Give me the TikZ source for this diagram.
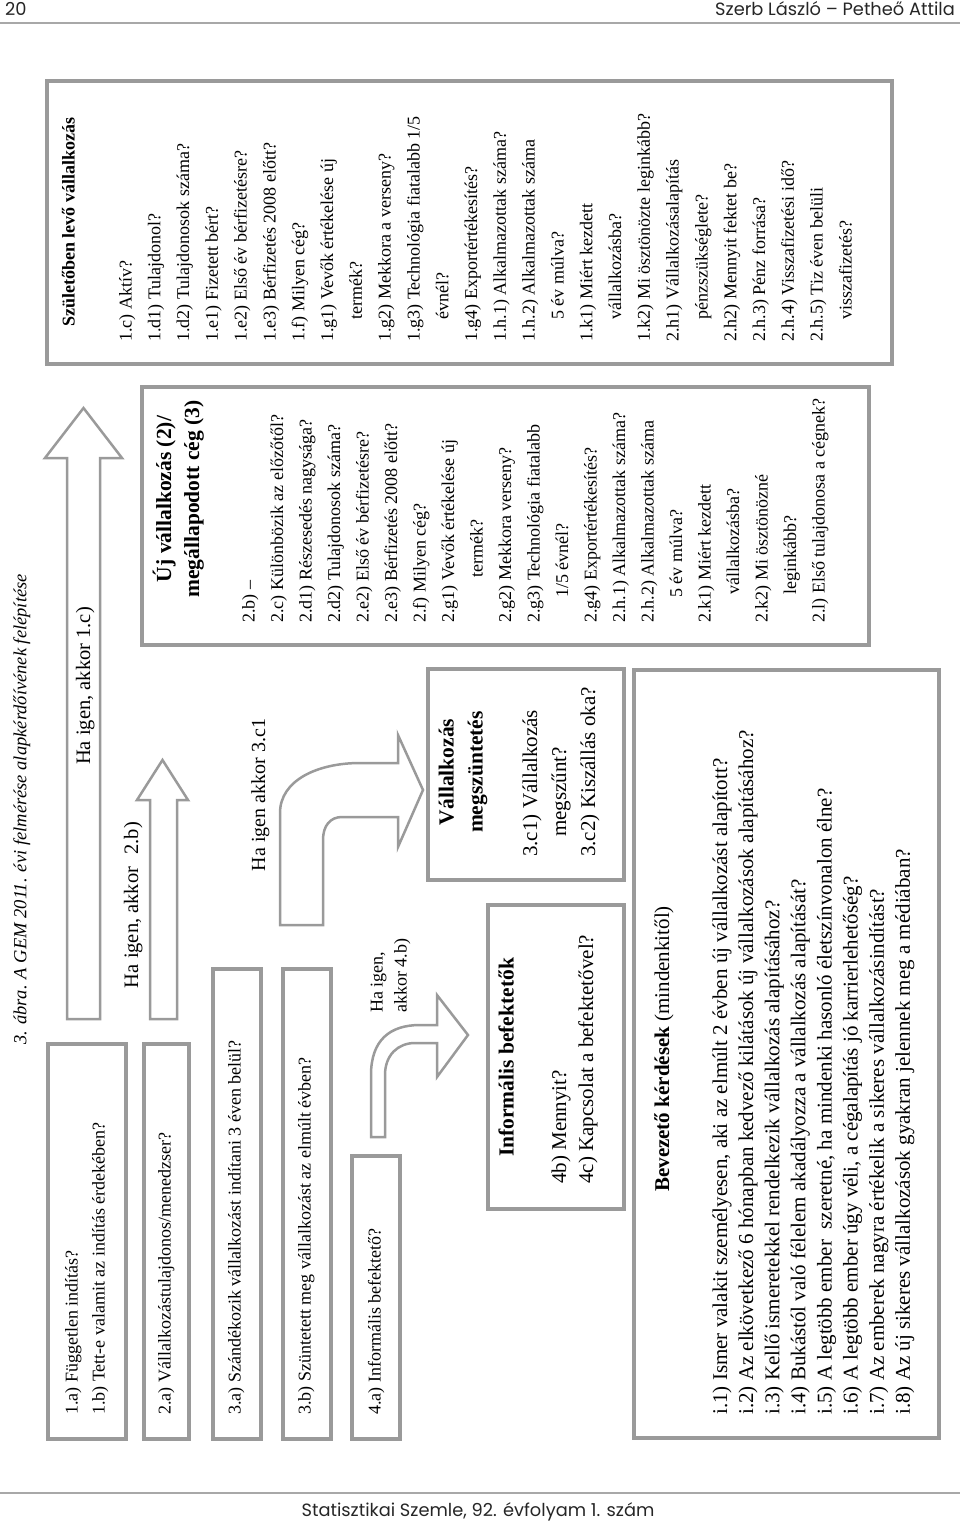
\documentclass[tikz,border=0pt]{standalone}
\usepackage{fontspec}
\setmainfont{Liberation Serif}
\newfontfamily\hdrfont{Poppins}
\definecolor{boxgray}{HTML}{9A9A9A}
\definecolor{rulegray}{HTML}{A8A8A8}
\tikzset{
 box/.style={draw=boxgray, line width=3.5pt, inner sep=0pt, anchor=north west},
 arr/.style={draw=boxgray, line width=2.5pt, fill=white, line join=miter, miter limit=10},
 ta/.style={rotate=90, anchor=base west, inner sep=0pt, font=\fontsize{18}{21}\selectfont},
 tb/.style={rotate=90, anchor=base west, inner sep=0pt, font=\fontsize{21}{24}\selectfont},
 tc/.style={rotate=90, anchor=base, inner sep=0pt, font=\fontsize{21.5}{24}\selectfont\bfseries},
 lab/.style={rotate=90, anchor=base, inner sep=0pt, font=\fontsize{20.5}{24}\selectfont},
 hd/.style={inner sep=0pt, font=\hdrfont\fontsize{17.8}{20}\selectfont, text=black!85},
 rl/.style={draw=rulegray, line width=2pt},
}
\begin{document}
\begin{tikzpicture}[x=1pt,y=-1pt]
\useasboundingbox (0,0) rectangle (960,1521);

% header / footer
\node[hd, anchor=base west] (pgno) at (5,15) {20};
\node[hd, anchor=base east] (auth) at (955,15) {Szerb László – Petheő Attila};
\coordinate (hl) at (0,22.5); \coordinate (hr) at (960,22.5);
\draw[rl] (hl) -- (hr);
\coordinate (fl) at (0,1493); \coordinate (fr) at (960,1493);
\draw[rl] (fl) -- (fr);
\node[hd, anchor=base] (foot) at (478,1516) {Statisztikai Szemle, 92. évfolyam 1. szám};

% caption
\node[rotate=90, anchor=base west, inner sep=0pt, font=\fontsize{18.5}{21}\selectfont\itshape] (cap) at (26.5,1045) {3. ábra. A GEM 2011. évi felmérése alapkérdőívének felépítése};

% boxes
\node[box, minimum width=845pt, minimum height=283pt] (B1) at (45,79) {};
\node[box, minimum width=727pt, minimum height=258pt] (B2) at (140,385) {};
\node[box, minimum width=196pt, minimum height=211pt] (B3) at (426,667) {};
\node[box, minimum width=305pt, minimum height=768pt] (B4) at (632,668) {};
\node[box, minimum width=136pt, minimum height=304pt] (B5) at (486,903) {};
\node[box, minimum width=78pt, minimum height=395pt] (L1) at (46,1042) {};
\node[box, minimum width=45pt, minimum height=395pt] (L2) at (142,1042) {};
\node[box, minimum width=48pt, minimum height=470pt] (L3) at (211,967) {};
\node[box, minimum width=48pt, minimum height=470pt] (L4) at (281,967) {};
\node[box, minimum width=48pt, minimum height=283pt] (L5) at (350,1154) {};

% block arrows
\draw[arr] (67,1019) -- (67,458) -- (45,458) -- (83.5,408) -- (122,458) -- (100,458) -- (100,1019) -- cycle;
\draw[arr] (150,1019) -- (150,800) -- (137,800) -- (162.5,760) -- (188,800) -- (177,800) -- (177,1019) -- cycle;
\draw[arr] (280,925) -- (280,813) .. controls (280,780) and (318,763) .. (360,763) -- (398,763) -- (398,735) -- (423,790) -- (398,847) -- (398,817) -- (342,817) .. controls (330,817) and (323,826) .. (323,840) -- (323,925) -- cycle;
\draw[arr] (371,1137) -- (371,1075) .. controls (371,1040) and (390,1025) .. (420,1025) -- (437,1025) -- (437,995) -- (468,1035) -- (437,1077) -- (437,1043) -- (415,1043) .. controls (398,1043) and (385,1055) .. (385,1075) -- (385,1137) -- cycle;

% arrow labels
\node[lab] (la1) at (90,686) {Ha igen, akkor 1.c)};
\node[lab] (la2) at (138,905) {Ha igen, akkor\hspace{0.6em}2.b)};
\node[lab, font=\fontsize{20}{24}\selectfont] (la3) at (265,795) {Ha igen akkor 3.c1};
\node[ta] (la4a) at (382.5,1013) {Ha igen,};
\node[ta] (la4b) at (406.5,1013) {akkor 4.b)};

% left boxes text
\node[ta] (t1a) at (77.5,1415) {1.a) Független indítás?};
\node[ta] (t1b) at (104.5,1415) {1.b) Tett-e valamit az indítás érdekében?};
\node[ta] (t2a) at (170.5,1415) {2.a) Vállalkozástulajdonos/menedzser?};
\node[ta] (t3a) at (240.5,1415) {3.a) Szándékozik vállalkozást indítani 3 éven belül?};
\node[ta] (t3b) at (310.5,1415) {3.b) Szüntetett meg vállalkozást az elmúlt évben?};
\node[ta] (t4a) at (380.5,1415) {4.a) Informális befektető?};

% box 1
\node[ta, font=\fontsize{18}{21}\selectfont\bfseries] (h1) at (74.5,327) {Születőben levő vállalkozás};
\foreach \t [count=\i from 0] in {
 {1.c) Aktív?},
 {1.d1) Tulajdonol?},
 {1.d2) Tulajdonosok száma?},
 {1.e1) Fizetett bért?},
 {1.e2) Első év bérfizetésre?},
 {1.e3) Bérfizetés 2008 előtt?},
 {1.f) Milyen cég?},
 {1.g1) Vevők értékelése új},
 {\hspace*{22pt}termék?},
 {1.g2) Mekkora a verseny?},
 {1.g3) Technológia fiatalabb 1/5},
 {\hspace*{22pt}évnél?},
 {1.g4) Exportértékesítés?},
 {1.h.1) Alkalmazottak száma?},
 {1.h.2) Alkalmazottak száma},
 {\hspace*{22pt}5 év múlva?},
 {1.k1) Miért kezdett},
 {\hspace*{22pt}vállalkozásba?},
 {1.k2) Mi ösztönözte leginkább?},
 {2.h1) Vállalkozásalapítás},
 {\hspace*{22pt}pénzszükséglete?},
 {2.h2) Mennyit fektet be?},
 {2.h.3) Pénz forrása?},
 {2.h.4) Visszafizetési idő?},
 {2.h.5) Tiz éven belüli},
 {\hspace*{22pt}visszafizetés?}
}{\node[ta] (ba\i) at ({131.5+28.8*\i},342) {\t};}

% box 2
\node[tc] (h2a) at (171,499) {Új vállalkozás (2)/};
\node[tc] (h2b) at (199,499) {megállapodott cég (3)};
\foreach \t [count=\i from 0] in {
 {2.b) –},
 {2.c) Különbözik az előzőtől?},
 {2.d1) Részesedés nagysága?},
 {2.d2) Tulajdonosok száma?},
 {2.e2) Első év bérfizetésre?},
 {2.e3) Bérfizetés 2008 előtt?},
 {2.f) Milyen cég?},
 {2.g1) Vevők értékelése új},
 {\hspace*{45pt}termék?},
 {2.g2) Mekkora verseny?},
 {2.g3) Technológia fiatalabb},
 {\hspace*{25pt}1/5 évnél?},
 {2.g4) Exportértékesítés?},
 {2.h.1) Alkalmazottak száma?},
 {2.h.2) Alkalmazottak száma},
 {\hspace*{25pt}5 év múlva?},
 {2.k1) Miért kezdett},
 {\hspace*{28pt}vállalkozásba?},
 {2.k2) Mi ösztönözné},
 {\hspace*{28pt}leginkább?},
 {2.l) Első tulajdonosa a cégnek?}
}{\node[ta] (bb\i) at ({254.5+28.5*\i},623) {\t};}

% box 3
\node[tc] (h3a) at (453.5,772) {Vállalkozás};
\node[tc] (h3b) at (482.5,772) {megszüntetés};
\node[tb] (c31) at (537,857) {3.c1) Vállalkozás};
\node[tb] (c31b) at (566,857) {\hspace*{20pt}megszűnt?};
\node[tb] (c32) at (595,857) {3.c2) Kiszállás oka?};

% box 5 informal investors
\node[tb, font=\fontsize{21.5}{24}\selectfont\bfseries] (h5) at (513.5,1157) {Informális befektetők};
\node[tb] (i4b) at (566,1184) {4b) Mennyit?};
\node[tb] (i4c) at (593,1184) {4c) Kapcsolat a befektetővel?};

% box 4 introductory questions
\node[tb] (h4) at (669,1192) {\textbf{Bevezető kérdések} (mindenkitől)};
\foreach \t [count=\i from 0] in {
 {i.1) Ismer valakit személyesen, aki az elmúlt 2 évben új vállalkozást alapított?},
 {i.2) Az elkövetkező 6 hónapban kedvező kilátások új vállalkozások alapításához?},
 {i.3) Kellő ismeretekkel rendelkezik vállalkozás alapításához?},
 {i.4) Bukástól való félelem akadályozza a vállalkozás alapítását?},
 {i.5) A legtöbb ember\ \ szeretné, ha mindenki hasonló életszínvonalon élne?},
 {i.6) A legtöbb ember úgy véli, a cégalapítás jó karrierlehetőség?},
 {i.7) Az emberek nagyra értékelik a sikeres vállalkozásindítást?},
 {i.8) Az új sikeres vállalkozások gyakran jelennek meg a médiában?}
}{\node[tb] (bv\i) at ({727+26.14*\i},1415) {\t};}

\end{tikzpicture}
\end{document}
